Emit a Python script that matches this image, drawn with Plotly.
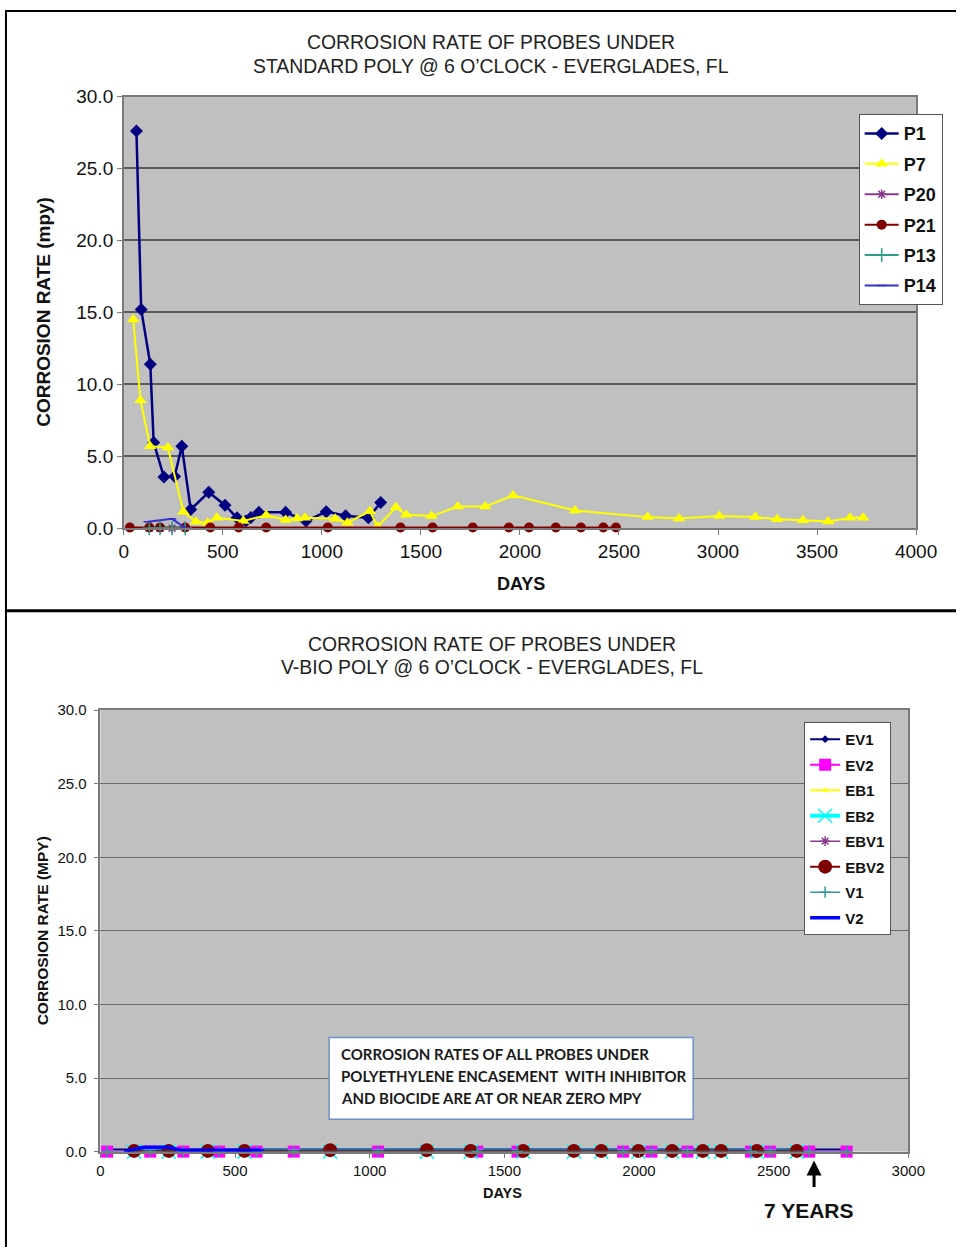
import plotly.graph_objects as go

W, H = 977, 1258

# ---------------- Top chart data (STANDARD POLY) ----------------
p1_days = [64, 88, 134, 151, 203, 257, 293, 338, 429, 511, 572, 616, 642, 682, 817, 920, 1022, 1120, 1235, 1297]
p1_mpy = [27.6, 15.2, 11.4, 5.95, 3.55, 3.6, 5.7, 1.3, 2.5, 1.6, 0.72, 0.5, 0.75, 1.1, 1.1, 0.5, 1.15, 0.87, 0.72, 1.78]

p7_days = [48, 84, 133, 223, 301, 364, 424, 470, 604, 719, 817, 875, 915, 1068, 1129, 1243, 1281, 1374, 1426,
           1554, 1686, 1825, 1965, 2278, 2645, 2803, 3006, 3189, 3299, 3429, 3556, 3666, 3733]
p7_mpy = [14.5, 8.9, 5.7, 5.6, 1.15, 0.45, 0.38, 0.72, 0.5, 0.9, 0.57, 0.68, 0.72, 0.65, 0.38, 1.18, 0.1, 1.45, 0.93,
          0.84, 1.5, 1.5, 2.28, 1.23, 0.77, 0.68, 0.84, 0.77, 0.62, 0.55, 0.46, 0.73, 0.73]

p20_days = [129, 183, 244]
p20_mpy = [0.0, 0.0, 0.0]

p21_days = [31, 129, 183, 310, 437, 580, 719, 1030, 1397, 1559, 1762, 1944, 2046, 2181, 2308, 2421, 2485]
p21_mpy = [0.05] * 17

p13_days = [129, 183, 244, 310]
p13_mpy = [0.0, 0.0, 0.0, 0.0]

p14_days = [121, 244, 310]
p14_mpy = [0.45, 0.65, 0.02]

# ---------------- Bottom chart data (V-BIO POLY) ----------------
ev2_days = [25, 185, 308, 441, 580, 718, 1031, 1399, 1549, 1941, 2046, 2180, 2416, 2487, 2632, 2771]
ev2_mpy = [0.0] * 16
ev1_days = ev2_days
ev1_mpy = [0.15] * 16
ebv2_days = [125, 254, 399, 535, 853, 1212, 1375, 1570, 1758, 1860, 1998, 2123, 2237, 2305, 2438, 2586]
ebv2_mpy = [0.05, 0.05, 0.05, 0.05, 0.1, 0.1, 0.05, 0.05, 0.05, 0.05, 0.05, 0.05, 0.05, 0.05, 0.05, 0.05]
eb1_days = ebv2_days
eb1_mpy = [0.0] * 16
eb2_days = ebv2_days
eb2_mpy = [0.0] * 16
ebv1_days = ebv2_days
ebv1_mpy = [0.0] * 16
v1_days = ev2_days
v1_mpy = [0.0] * 16
v2_days = [98, 160, 254, 300, 400, 535, 597]
v2_mpy = [0.05, 0.3, 0.3, 0.1, 0.1, 0.1, 0.1]

y_ticks = [0, 5, 10, 15, 20, 25, 30]

note_lines = ["CORROSION RATES OF ALL PROBES UNDER",
              "POLYETHYLENE ENCASEMENT  WITH INHIBITOR",
              "AND BIOCIDE ARE AT OR NEAR ZERO MPY"]

FONT = "Liberation Sans, Arial, sans-serif"
NARROW = "Liberation Sans Narrow, Arial Narrow, Liberation Sans, sans-serif"


def px_x(p):
    return p / W


def px_y(p):
    return 1 - p / H


fig = go.Figure()


def add(x, y, name, color, symbol, msize, lwidth, axis, legend, mline=None):
    marker = dict(symbol=symbol, size=msize, color=color)
    if mline is not None:
        marker["line"] = dict(color=mline, width=1.5)
    fig.add_trace(go.Scatter(
        x=x, y=y, name=name, mode="lines+markers",
        line=dict(color=color, width=lwidth), marker=marker,
        xaxis="x" if axis == 1 else "x2", yaxis="y" if axis == 1 else "y2",
        legend=legend, legendgroup=name, cliponaxis=False))


# top
add(p1_days, p1_mpy, "P1", "#000080", "diamond", 10, 2.5, 1, "legend")
add(p7_days, p7_mpy, "P7", "#ffff00", "triangle-up", 11, 2, 1, "legend")
add(p20_days, p20_mpy, "P20", "#8b3a8b", "asterisk-open", 8, 2, 1, "legend", mline="#8b3a8b")
add(p21_days, p21_mpy, "P21", "#800000", "circle", 10, 2, 1, "legend")
add(p13_days, p13_mpy, "P13", "#2e9e86", "cross-thin-open", 10, 2, 1, "legend", mline="#2e9e86")
add(p14_days, p14_mpy, "P14", "#3333cc", "line-ew-open", 6, 2, 1, "legend", mline="#3333cc")

# bottom
add(ev1_days, ev1_mpy, "EV1", "#000080", "diamond", 6, 2, 2, "legend2")
add(ev2_days, ev2_mpy, "EV2", "#ff00ff", "square", 12, 2, 2, "legend2")
add(eb1_days, eb1_mpy, "EB1", "#ffff00", "triangle-up", 6, 2, 2, "legend2")
add(eb2_days, eb2_mpy, "EB2", "#00ffff", "x-thin-open", 14, 4, 2, "legend2", mline="#00e5ee")
add(ebv1_days, ebv1_mpy, "EBV1", "#8b3a8b", "asterisk-open", 8, 1.5, 2, "legend2", mline="#8b3a8b")
add(ebv2_days, ebv2_mpy, "EBV2", "#800000", "circle", 14, 2, 2, "legend2")
add(v1_days, v1_mpy, "V1", "#339999", "cross-thin-open", 8, 1.5, 2, "legend2", mline="#339999")
add(v2_days, v2_mpy, "V2", "#0000ff", "line-ew-open", 4, 3.5, 2, "legend2", mline="#0000ff")

axis_common = dict(showgrid=False, showline=True, mirror=True, linecolor="#7a7a7a", linewidth=1.5,
                   ticks="outside", ticklen=5, tickcolor="#7a7a7a", zeroline=False)

fig.update_layout(
    width=W, height=H,
    margin=dict(l=0, r=0, t=0, b=0),
    paper_bgcolor="white",
    plot_bgcolor="#c0c0c0",
    showlegend=True,
    xaxis=dict(domain=[px_x(122), px_x(936)], range=[0, 4000], dtick=500, tick0=0,
               anchor="y", tickfont=dict(family=FONT, size=19, color="#111"), **axis_common),
    yaxis=dict(domain=[px_y(527), px_y(88)], range=[0, 30], tickvals=y_ticks, tickformat=".1f",
               anchor="x", tickfont=dict(family=FONT, size=19, color="#111"),
               **{**axis_common, "showgrid": True, "gridcolor": "#5a5a5a", "gridwidth": 1.5}),
    xaxis2=dict(domain=[px_x(98), px_x(928)], range=[0, 3000], dtick=500, tick0=0,
                anchor="y2", tickfont=dict(family=FONT, size=15, color="#111"), **axis_common),
    yaxis2=dict(domain=[px_y(1161), px_y(712)], range=[0, 30], tickvals=y_ticks, tickformat=".1f",
                anchor="x2", tickfont=dict(family=FONT, size=15, color="#111"), ticklabelstandoff=4,
                **{**axis_common, "showgrid": True, "gridcolor": "#6a6a6a", "gridwidth": 1}),
    legend=dict(x=px_x(877), y=px_y(106), xanchor="left", yanchor="top",
                bgcolor="white", bordercolor="#555", borderwidth=1, itemwidth=34,
                font=dict(family=FONT, size=18, color="#111", weight="bold"),
                tracegroupgap=4, traceorder="grouped"),
    legend2=dict(x=px_x(821), y=px_y(724), xanchor="left", yanchor="top",
                 bgcolor="white", bordercolor="#555", borderwidth=1,
                 font=dict(family=FONT, size=15, color="#111", weight="bold"),
                 tracegroupgap=3, traceorder="grouped"),
)


def text(t, xp, yp, size, family=FONT, angle=0, xanchor="center", color="#111"):
    return dict(text=t, x=px_x(xp), y=px_y(yp), xref="paper", yref="paper", showarrow=False,
                xanchor=xanchor, yanchor="middle", textangle=angle,
                font=dict(family=family, size=size, color=color))


ann = [
    text("CORROSION RATE OF PROBES UNDER", 499, 33, 19.4, NARROW, color="#222"),
    text("STANDARD POLY @ 6 O\u2019CLOCK - EVERGLADES, FL", 499, 57, 19.4, NARROW, color="#222"),
    text("CORROSION RATE OF PROBES UNDER", 500, 645, 19.4, NARROW, color="#222"),
    text("V-BIO POLY @ 6 O\u2019CLOCK - EVERGLADES, FL", 500, 668, 19.4, NARROW, color="#222"),
    text("<b>DAYS</b>", 530, 584, 18),
    text("<b>CORROSION RATE (mpy)</b>", 40, 307, 19, angle=-90),
    text("<b>DAYS</b>", 511, 1203, 14.5),
    text("<b>CORROSION RATE (MPY)</b>", 38, 936, 15.5, angle=-90),
    text("<b>7 YEARS</b>", 826, 1221, 21),
]
for i, line in enumerate(note_lines):
    ann.append(text("<b>" + line + "</b>", 343, 1062 + 22 * i, 15,
                    family="Lato, Open Sans, sans-serif", xanchor="left", color="#1a1a1a"))
# 7 YEARS arrow
ann.append(dict(text="", x=2650, y=px_y(1170), xref="x2", yref="paper", showarrow=True,
                ax=0, ay=28, arrowhead=2, arrowsize=1, arrowwidth=3, arrowcolor="black"))
fig.update_layout(annotations=ann)

shapes = [
    dict(type="rect", xref="paper", yref="paper", x0=px_x(333), x1=px_x(707), y0=px_y(1128), y1=px_y(1045),
         fillcolor="white", line=dict(color="#6f8fc8", width=1.5), layer="above"),
    dict(type="line", xref="paper", yref="paper", x0=px_x(1), x1=px_x(1), y0=0, y1=1,
         line=dict(color="black", width=2)),
    dict(type="line", xref="paper", yref="paper", x0=0, x1=1, y0=px_y(1), y1=px_y(1),
         line=dict(color="black", width=2)),
    dict(type="line", xref="paper", yref="paper", x0=0, x1=1, y0=px_y(611), y1=px_y(611),
         line=dict(color="black", width=3)),
]
fig.update_layout(shapes=shapes)

fig.write_html("out.html", config={"displayModeBar": False},
               post_script="document.body.style.margin='0px';document.body.style.overflow='hidden';")
